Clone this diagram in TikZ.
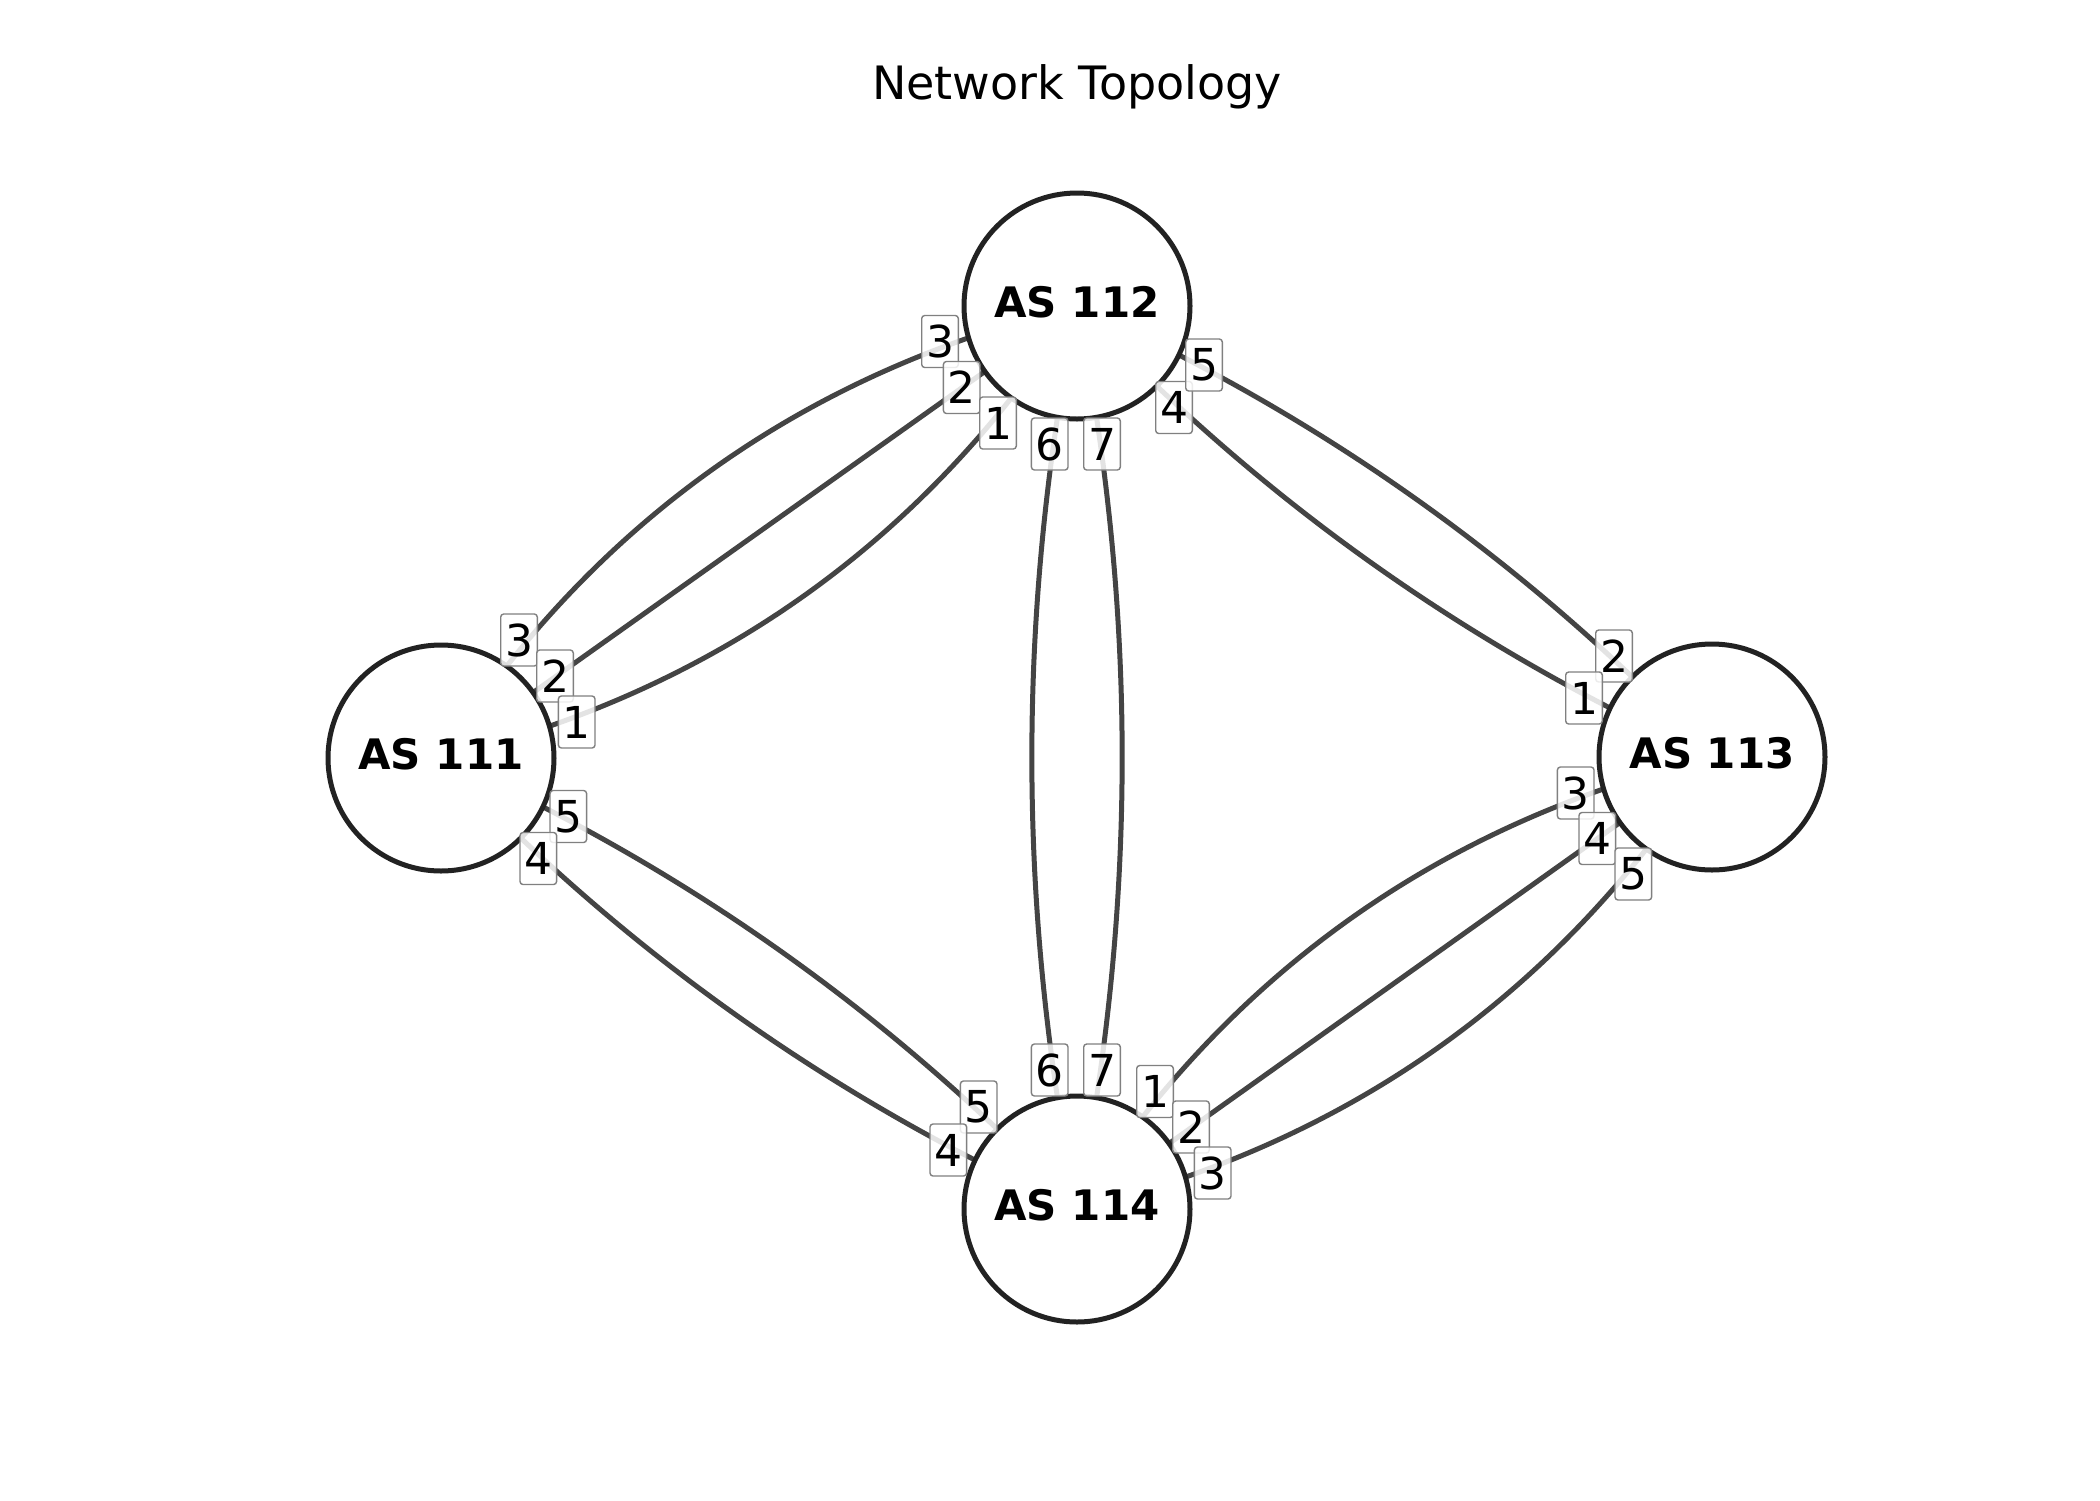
\documentclass[tikz,border=0pt]{standalone}
\usepackage{fontspec}
\setmainfont{DejaVu Sans}
\usetikzlibrary{calc,backgrounds}
\definecolor{edgegray}{HTML}{444444}
\definecolor{ringgray}{HTML}{222222}
\definecolor{boxgray}{HTML}{808080}
\tikzset{
  asnode/.style={circle,draw=ringgray,line width=2.5pt,fill=white,minimum size=113pt,inner sep=0pt,text height=15.3pt,text depth=3.5pt,font=\fontsize{21}{25}\selectfont\bfseries},
  edgeline/.style={draw=edgegray,line width=2.5pt},
  portbox/.style={draw=boxgray,line width=0.7pt,rounded corners=1.5pt,fill=white,fill opacity=0.85,text opacity=1,inner sep=0pt,minimum width=18.3pt,minimum height=26pt,font=\fontsize{22}{26}\selectfont},
  titletext/.style={font=\fontsize{23}{28}\selectfont,anchor=base}
}
\newcommand\arcedge[3]{%
  \coordinate (mid) at ($(#1)!0.5!(#2)$);
  \coordinate (ctl) at ($(mid)!#3!90:(#2)$);
  \draw[edgeline] (#1.center) .. controls ($(#1.center)!2/3!(ctl)$) and ($(#2.center)!2/3!(ctl)$) .. (#2.center);
}
\begin{document}
\begin{tikzpicture}[x=0.5pt,y=-0.5pt]
\useasboundingbox (0,0) rectangle (2100,1500);
\node[titletext] (title) at (1077,99) {Network Topology};
\node[asnode] (as111) at (441,758) {AS 111};
\node[asnode] (as112) at (1077,306) {AS 112};
\node[asnode] (as113) at (1712,757) {AS 113};
\node[asnode] (as114) at (1077,1209) {AS 114};
\begin{scope}[on background layer]
  \arcedge{as111}{as112}{0.4}
  \arcedge{as111}{as112}{0}
  \arcedge{as111}{as112}{-0.4}
  \arcedge{as112}{as113}{0.2}
  \arcedge{as112}{as113}{-0.2}
  \arcedge{as112}{as114}{0.2}
  \arcedge{as112}{as114}{-0.2}
  \arcedge{as111}{as114}{0.2}
  \arcedge{as111}{as114}{-0.2}
  \arcedge{as114}{as113}{0.4}
  \arcedge{as114}{as113}{0}
  \arcedge{as114}{as113}{-0.4}
\end{scope}
% ports at AS 112
\node[portbox] (p112c) at (940,341.5) {3};
\node[portbox] (p112b) at (961.7,387.5) {2};
\node[portbox] (p112a) at (998,423) {1};
\node[portbox] (p112f) at (1049.7,444) {6};
\node[portbox] (p112g) at (1102,444) {7};
\node[portbox] (p112d) at (1174,407.5) {4};
\node[portbox] (p112e) at (1204,365) {5};
% ports at AS 111
\node[portbox] (p111c) at (519,640) {3};
\node[portbox] (p111b) at (555,676) {2};
\node[portbox] (p111a) at (576.7,722) {1};
\node[portbox] (p111e) at (568.3,816.5) {5};
\node[portbox] (p111d) at (538.3,858.5) {4};
% ports at AS 114
\node[portbox] (p114f) at (1049.7,1070) {6};
\node[portbox] (p114g) at (1102,1070) {7};
\node[portbox] (p114a) at (1155,1091.5) {1};
\node[portbox] (p114b) at (1191,1127) {2};
\node[portbox] (p114c) at (1212.7,1173) {3};
\node[portbox] (p114e) at (978.7,1107) {5};
\node[portbox] (p114d) at (948.3,1150) {4};
% ports at AS 113
\node[portbox] (p113b) at (1614,656) {2};
\node[portbox] (p113a) at (1584,698) {1};
\node[portbox] (p113c) at (1575.7,793) {3};
\node[portbox] (p113d) at (1597.3,838.5) {4};
\node[portbox] (p113e) at (1633.3,874) {5};
\end{tikzpicture}
\end{document}
